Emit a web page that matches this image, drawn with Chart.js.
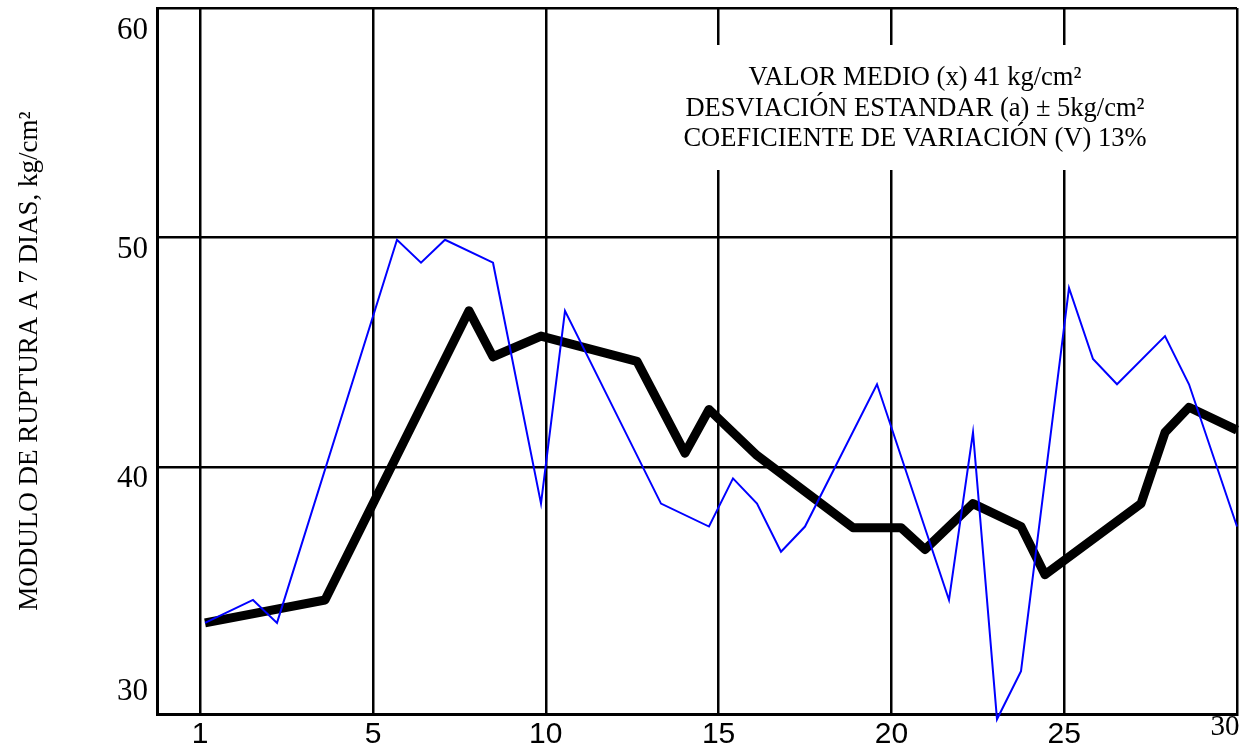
<!DOCTYPE html>
<html>
<head>
<meta charset="utf-8">
<script src="https://cdn.jsdelivr.net/npm/chart.js@4.4.1/dist/chart.umd.min.js"></script>
<style>
  html, body { margin: 0; padding: 0; background: #fff; }
  #chart { display: block; }
</style>
</head>
<body>
<canvas id="chart" width="1253" height="752"></canvas>
<script>
// sample number (position along the axis) and value, kg/cm2
const testIdx = [0, 2, 3, 8, 9, 10, 12, 14, 15, 19, 21, 22, 23, 24, 25, 28, 31, 32, 33, 34, 36, 37, 38, 40, 41, 43];
const testVal = [33.2, 34.2, 33.2, 49.9, 48.9, 49.9, 48.9, 38.4, 46.8, 38.4, 37.4, 39.5, 38.4, 36.3, 37.4,
                 43.6, 34.2, 41.5, 29.0, 31.1, 47.8, 44.7, 43.6, 45.7, 43.6, 37.4];

const avgIdx = [0, 5, 11, 12, 14, 18, 20, 21, 23, 27, 29, 30, 32, 34, 35, 39, 40, 41, 43];
const avgVal = [33.2, 34.2, 46.8, 44.8, 45.7, 44.6, 40.6, 42.5, 40.5, 37.35, 37.35, 36.4, 38.4, 37.4, 35.3,
                38.4, 41.5, 42.6, 41.6];

const xTickPos = [-0.2, 7, 14.2, 21.4, 28.6, 35.8, 43];
const xTickLabels = ['1', '5', '10', '15', '20', '25', '30'];
const yTickVals = [60, 50, 40, 30];
const yTickLabels = ['60', '50', '40', '30'];
// the printed numbers sit a little off their lines in the original
const yLabelAt = [59.0, 49.45, 39.5, 30.2];

const statLines = [
    'VALOR MEDIO (x) 41 kg/cm²',
    'DESVIACIÓN ESTANDAR (a) ± 5kg/cm²',
    'COEFICIENTE DE VARIACIÓN (V) 13%'
];

const toPoints = (xs, ys) => xs.map((x, i) => ({ x: x, y: ys[i] }));

const serif = '"Liberation Serif", "Times New Roman", serif';
const lastX = xTickLabels.length - 1;

// white box with the statistics, drawn over the grid;
// also the last x label, which is printed raised and pulled inside
const statsBox = {
    id: 'statsBox',
    beforeDatasetsDraw(chart) {
        const ctx = chart.ctx;
        const ca = chart.chartArea;
        ctx.save();
        ctx.fillStyle = '#fff';
        ctx.fillRect(ca.left + 518, ca.top + 37, 480, 125);
        ctx.fillStyle = '#000';
        ctx.font = '26.5px ' + serif;
        ctx.textAlign = 'center';
        ctx.textBaseline = 'alphabetic';
        statLines.forEach((t, i) => {
            ctx.fillText(t, ca.left + 758, ca.top + 77 + i * 30.5);
        });
        ctx.font = '29px ' + serif;
        ctx.textBaseline = 'middle';
        ctx.fillText(xTickLabels[lastX], chart.scales.x.getPixelForValue(xTickPos[lastX]) - 12, ca.bottom + 13);
        ctx.restore();
    }
};

new Chart(document.getElementById('chart').getContext('2d'), {
    type: 'line',
    data: {
        datasets: [{
            data: toPoints(testIdx, testVal),
            borderColor: '#0000ff',
            borderWidth: 2,
            pointRadius: 0,
            tension: 0,
            clip: false
        }, {
            data: toPoints(avgIdx, avgVal),
            borderColor: '#000',
            borderWidth: 9,
            borderJoinStyle: 'round',
            pointRadius: 0,
            tension: 0,
            clip: false
        }]
    },
    options: {
        responsive: false,
        animation: false,
        layout: { padding: { top: 8, right: 16, left: 0, bottom: 0 } },
        plugins: {
            legend: { display: false },
            tooltip: { enabled: false }
        },
        scales: {
            x: {
                type: 'linear',
                min: -2,
                max: 43,
                afterBuildTicks: s => { s.ticks = xTickPos.map(v => ({ value: v })); },
                afterFit: s => {
                    s.height = 38;
                    s.paddingLeft = 0;
                    s.paddingRight = 0;
                },
                grid: { color: '#000', lineWidth: 2.5, drawTicks: false },
                border: { color: '#000', width: 3 },
                ticks: {
                    padding: 3,
                    color: '#000',
                    maxRotation: 0,
                    autoSkip: false,
                    callback: (v, i) => i === lastX ? '' : xTickLabels[i],
                    font: { family: '"Liberation Sans", Arial, sans-serif', size: 30 }
                }
            },
            y: {
                min: 29.23,
                max: 60,
                weight: 0,
                afterBuildTicks: s => { s.ticks = yTickVals.map(v => ({ value: v })); },
                afterFit: s => {
                    s.width = 0;
                    s.paddingTop = 0;
                    s.paddingBottom = 0;
                },
                grid: {
                    color: c => (c.tick && c.tick.value === 30) ? 'rgba(0,0,0,0)' : '#000',
                    lineWidth: 2.5,
                    drawTicks: false
                },
                border: { color: '#000', width: 3 },
                ticks: { display: false }
            },
            yLabels: {
                type: 'linear',
                position: 'left',
                min: 29.23,
                max: 60,
                weight: 1,
                afterBuildTicks: s => { s.ticks = yLabelAt.map(v => ({ value: v })); },
                afterFit: s => {
                    s.width = 157;
                    s.paddingTop = 0;
                    s.paddingBottom = 0;
                },
                grid: { display: false, drawTicks: false },
                border: { display: false },
                ticks: {
                    padding: 9,
                    color: '#000',
                    callback: (v, i) => yTickLabels[i],
                    font: { family: serif, size: 31 }
                },
                title: {
                    display: true,
                    text: 'MODULO DE RUPTURA A 7 DIAS, kg/cm²',
                    color: '#000',
                    font: { family: serif, size: 27 },
                    padding: { top: 14, bottom: 0 }
                }
            }
        }
    },
    plugins: [statsBox]
});
</script>
</body>
</html>
